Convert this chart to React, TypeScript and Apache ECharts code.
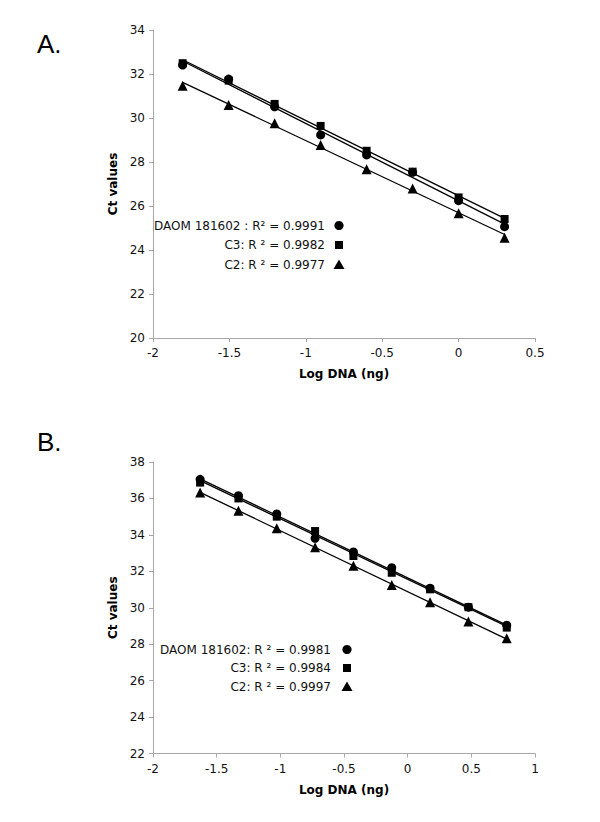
import React, { useEffect, useRef } from "react";
import * as echarts from "echarts";

// Panel A data
const xA = [-1.806, -1.505, -1.204, -0.903, -0.602, -0.301, 0, 0.301];
const daomA = [32.41, 31.77, 30.51, 29.23, 28.32, 27.53, 26.24, 25.06];
const c3A = [32.49, 31.7, 30.64, 29.64, 28.51, 27.56, 26.39, 25.41];
const c2A = [31.47, 30.59, 29.76, 28.77, 27.67, 26.8, 25.67, 24.56];
const legendA = ["DAOM 181602 : R\u00B2 = 0.9991", "C3: R \u00B2 = 0.9982", "C2: R \u00B2 = 0.9977"];

// Panel B data
const xB = [-1.63, -1.329, -1.028, -0.727, -0.426, -0.125, 0.176, 0.477, 0.778];
const daomB = [37.05, 36.15, 35.15, 33.81, 33.06, 32.2, 31.07, 30.03, 29.04];
const c3B = [36.87, 36.0, 35.0, 34.21, 32.84, 31.92, 31.01, 30.03, 28.91];
const c2B = [36.32, 35.33, 34.36, 33.32, 32.31, 31.25, 30.3, 29.24, 28.32];
const legendB = ["DAOM 181602: R \u00B2 = 0.9981", "C3: R \u00B2 = 0.9984", "C2: R \u00B2 = 0.9997"];

const xTicksA = { min: -2, max: 0.5, interval: 0.5 };
const yTicksA = { min: 20, max: 34, interval: 2 };
const xTicksB = { min: -2, max: 1, interval: 0.5 };
const yTicksB = { min: 22, max: 38, interval: 2 };

const symbols = ["circle", "rect", "triangle"];
const symbolSizes = [9, 8, 10];

function fitLine(xs: number[], ys: number[]) {
  const n = xs.length;
  const mx = xs.reduce((a, b) => a + b, 0) / n;
  const my = ys.reduce((a, b) => a + b, 0) / n;
  let sxy = 0, sxx = 0;
  for (let i = 0; i < n; i++) {
    sxy += (xs[i] - mx) * (ys[i] - my);
    sxx += (xs[i] - mx) * (xs[i] - mx);
  }
  const b = sxy / sxx;
  const a = my - b * mx;
  const x0 = xs[0], x1 = xs[n - 1];
  return [[x0, a + b * x0], [x1, a + b * x1]];
}

const AXIS_GRAY = "#a8a8a8";
const FONT = "DejaVu Sans";

function xAxisCfg(idx: number, t: { min: number; max: number; interval: number }) {
  return {
    type: "value",
    gridIndex: idx,
    min: t.min,
    max: t.max,
    interval: t.interval,
    name: "Log DNA (ng)",
    nameLocation: "middle",
    nameGap: 30,
    nameTextStyle: { fontFamily: FONT, fontSize: 12, fontWeight: "bold", color: "#000" },
    axisLine: { show: true, onZero: false, lineStyle: { color: AXIS_GRAY, width: 1 } },
    axisTick: { show: true, length: 4, lineStyle: { color: AXIS_GRAY } },
    axisLabel: { fontFamily: FONT, fontSize: 12, color: "#111", margin: 9 },
    splitLine: { show: false },
  };
}

function yAxisCfg(idx: number, t: { min: number; max: number; interval: number }) {
  return {
    type: "value",
    gridIndex: idx,
    min: t.min,
    max: t.max,
    interval: t.interval,
    name: "Ct values",
    nameLocation: "middle",
    nameGap: 30,
    nameRotate: 90,
    nameTextStyle: { fontFamily: FONT, fontSize: 12, fontWeight: "bold", color: "#000" },
    axisLine: { show: true, onZero: false, lineStyle: { color: AXIS_GRAY, width: 1 } },
    axisTick: { show: true, length: 4, lineStyle: { color: AXIS_GRAY } },
    axisLabel: { fontFamily: FONT, fontSize: 12, color: "#111", margin: 8 },
    splitLine: { show: false },
  };
}

function panelSeries(idx: number, xs: number[], sets: number[][]) {
  const out: any[] = [];
  sets.forEach((ys, k) => {
    out.push({
      type: "line",
      xAxisIndex: idx,
      yAxisIndex: idx,
      data: fitLine(xs, ys),
      showSymbol: false,
      symbol: "none",
      lineStyle: { color: "#000", width: 1.3 },
      silent: true,
      z: 2,
    });
    out.push({
      type: "scatter",
      xAxisIndex: idx,
      yAxisIndex: idx,
      data: xs.map((x, i) => [x, ys[i]]),
      symbol: symbols[k],
      symbolSize: symbolSizes[k],
      itemStyle: { color: "#000", opacity: 1 },
      z: 3,
    });
  });
  return out;
}

function legendGraphics(texts: string[], textRight: number, markerX: number, ys: number[]) {
  const g: any[] = [];
  texts.forEach((t, k) => {
    g.push({
      type: "text",
      style: {
        text: t,
        x: textRight,
        y: ys[k],
        align: "right",
        verticalAlign: "middle",
        fontFamily: FONT,
        fontSize: 12,
        fill: "#111",
      },
    });
    const y = ys[k];
    if (k === 0) {
      g.push({ type: "circle", shape: { cx: markerX, cy: y, r: 4.6 }, style: { fill: "#000" } });
    } else if (k === 1) {
      g.push({ type: "rect", shape: { x: markerX - 4, y: y - 4, width: 8, height: 8 }, style: { fill: "#000" } });
    } else {
      g.push({
        type: "polygon",
        shape: { points: [[markerX, y - 5], [markerX - 5.5, y + 4.5], [markerX + 5.5, y + 4.5]] },
        style: { fill: "#000" },
      });
    }
  });
  return g;
}

export default function App() {
  const ref = useRef<HTMLDivElement>(null);
  useEffect(() => {
    if (!ref.current) return;
    const chart = echarts.init(ref.current, undefined, { renderer: "svg" });
    chart.setOption({
      animation: false,
      backgroundColor: "#fff",
      grid: [
        { left: 153, top: 30, width: 382, height: 308 },
        { left: 153, top: 462, width: 382, height: 291.5 },
      ],
      xAxis: [xAxisCfg(0, xTicksA), xAxisCfg(1, xTicksB)],
      yAxis: [yAxisCfg(0, yTicksA), yAxisCfg(1, yTicksB)],
      series: [
        ...panelSeries(0, xA, [daomA, c3A, c2A]),
        ...panelSeries(1, xB, [daomB, c3B, c2B]),
      ],
      graphic: [
        {
          type: "text",
          style: { text: "A.", x: 37, y: 44, verticalAlign: "middle", fontFamily: "Liberation Sans", fontSize: 26, fill: "#000" },
        },
        {
          type: "text",
          style: { text: "B.", x: 37, y: 442, verticalAlign: "middle", fontFamily: "Liberation Sans", fontSize: 26, fill: "#000" },
        },
        ...legendGraphics(legendA, 325, 339, [225.5, 245, 264.5]),
        ...legendGraphics(legendB, 331, 347, [649.5, 668, 686.5]),
      ],
    });
    return () => chart.dispose();
  }, []);
  return <div ref={ref} style={{ position: "fixed", left: 0, top: 0, width: 600, height: 822 }} />;
}
